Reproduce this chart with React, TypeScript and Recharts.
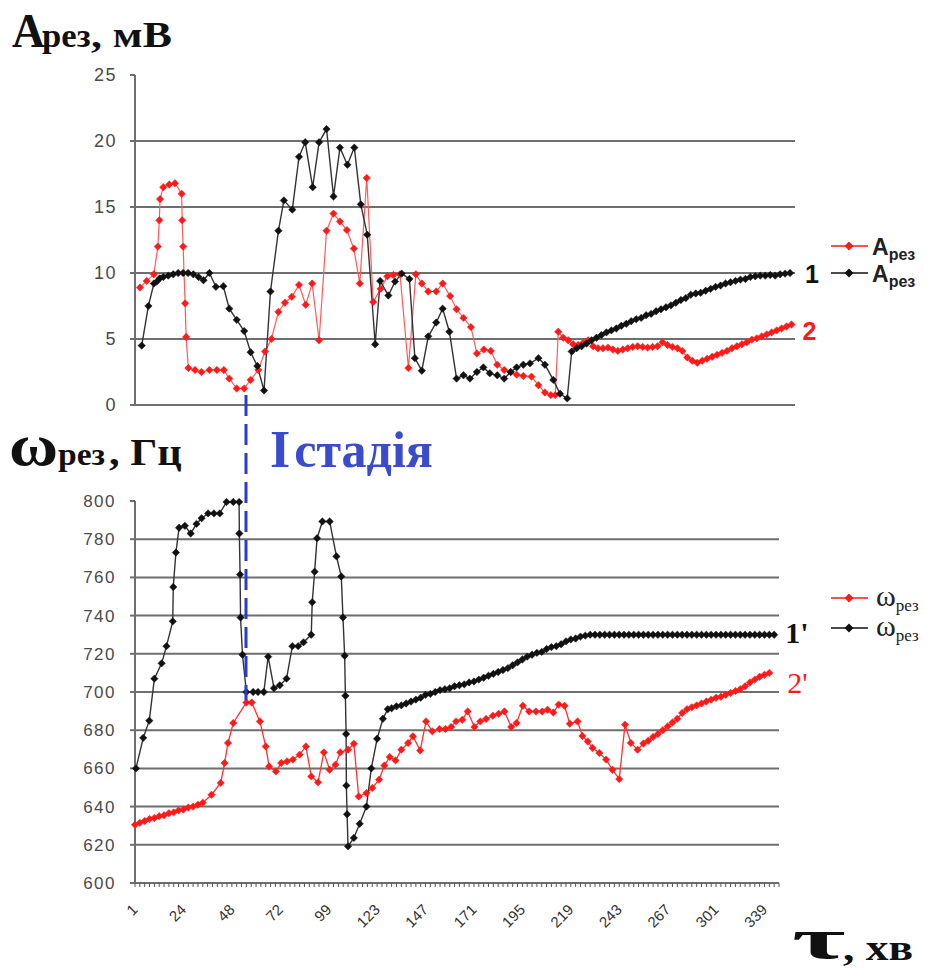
import React from 'react';
import { Line, LineChart, ReferenceLine, XAxis, YAxis } from 'recharts';

// τ, хв labels, one under every 10th sample
const tauLabels = ['1', '24', '48', '72', '99', '123', '147', '171', '195', '219', '243', '267', '301', '339'];
const SAMPLES = 133;

const ampTicks = [0, 5, 10, 15, 20, 25];
const ampGrid = [5, 10, 15, 20];
const freqTicks = [600, 620, 640, 660, 680, 700, 720, 740, 760, 780, 800];
const freqGrid = [620, 640, 660, 680, 700, 720, 740, 760, 780];

// [sample position, value]
// A_рез, curve 1 (black)
const ampCurve1: [number, number][] = [
  [1.35, 4.5], [2.7, 7.5], [3.8, 9.2], [4.4, 9.35], [5.0, 9.6], [5.7, 9.7], [6.7, 9.8], [7.7, 9.9], [8.7, 10.0], [9.7, 10.0],
  [10.7, 10.0], [11.75, 9.9], [12.8, 9.7], [13.8, 9.45], [15.0, 10.0], [16.3, 8.95], [17.8, 9.0], [19.0, 7.3], [20.5, 6.45], [22.0, 5.6],
  [23.3, 4.0], [24.65, 2.95], [26.0, 1.1], [27.3, 8.6], [28.9, 13.2], [30.0, 15.5], [31.7, 14.8], [33.05, 18.8], [34.3, 19.9], [35.8, 16.5],
  [37.1, 19.9], [38.6, 20.9], [40.0, 15.8], [41.3, 19.5], [42.8, 18.2], [44.2, 19.5], [45.5, 15.2], [46.8, 12.9], [48.4, 4.6], [49.4, 9.4],
  [51.05, 8.3], [52.4, 9.35], [53.75, 9.95], [55.3, 9.55], [56.4, 3.55], [57.8, 2.6], [59.1, 5.2], [60.7, 6.25], [62.0, 7.3], [63.35, 5.55],
  [64.8, 2.0], [66.2, 2.25], [67.5, 2.0], [68.9, 2.5], [70.2, 2.85], [71.5, 2.4], [73.0, 2.25], [74.4, 2.0], [75.7, 2.5], [76.9, 2.85],
  [78.25, 3.05], [79.6, 3.15], [81.3, 3.55], [82.6, 3.05], [84.3, 1.9], [85.65, 0.85], [87.1, 0.5],
  [88, 4.05], [89, 4.3], [90, 4.45], [91, 4.65], [92, 4.9], [93, 5.1], [94, 5.3], [95, 5.5], [96, 5.65], [97, 5.8],
  [98, 6.0], [99, 6.15], [100, 6.35], [101, 6.5], [102, 6.6], [103, 6.8], [104, 6.9], [105, 7.1], [106, 7.25], [107, 7.4],
  [108, 7.55], [109, 7.75], [110, 7.95], [111, 8.1], [112, 8.35], [113, 8.45], [114, 8.5], [115, 8.65], [116, 8.8], [117, 8.95],
  [118, 9.05], [119, 9.2], [120, 9.3], [121, 9.4], [122, 9.5], [123, 9.55], [124, 9.7], [125, 9.75], [126, 9.8], [127, 9.8],
  [128, 9.85], [129, 9.8], [130, 9.9], [131, 9.95], [132, 10.0],
];

// A_рез, curve 2 (red)
const ampCurve2: [number, number][] = [
  [1.0, 8.9], [2.35, 9.4], [3.8, 9.9], [4.6, 12.0], [4.9, 14.0], [5.05, 15.6], [5.7, 16.5], [6.9, 16.7], [8.05, 16.8], [9.4, 16.0],
  [9.5, 14.0], [9.7, 12.0], [10.1, 7.7], [10.3, 5.15], [10.75, 2.8], [12.1, 2.65], [13.4, 2.5], [15.0, 2.65], [16.5, 2.65], [17.9, 2.65],
  [19.0, 2.0], [20.5, 1.25], [22.0, 1.25], [23.3, 1.9], [24.85, 2.65], [26.2, 4.05], [27.5, 5.0], [28.9, 7.05], [30.2, 7.75], [31.6, 8.2],
  [33.05, 9.1], [34.4, 7.6], [35.7, 9.2], [37.1, 4.9], [38.6, 13.2], [40.0, 14.5], [41.3, 13.9], [42.7, 13.25], [44.1, 11.85], [45.3, 9.2],
  [46.7, 17.2], [48.0, 7.8], [49.5, 8.8], [50.85, 9.75], [52.05, 9.85], [53.4, 9.9], [55.1, 2.8], [56.6, 9.9], [57.8, 9.2], [59.1, 8.6],
  [60.7, 8.6], [62.0, 9.2], [63.5, 8.25], [64.8, 7.25], [66.2, 6.6], [67.7, 5.9], [68.9, 3.9], [70.3, 4.2], [71.7, 4.1], [73.0, 3.05],
  [74.4, 2.65], [75.7, 2.5], [76.9, 2.3], [78.25, 2.2], [79.9, 2.15], [81.3, 1.5], [82.6, 0.95], [83.8, 0.75], [84.7, 0.75], [85.3, 5.55],
  [86.3, 5.1], [87.3, 4.9], [88.3, 4.6], [89.3, 4.55], [90.3, 4.7], [91.3, 4.9], [92.3, 4.45], [93.3, 4.3], [94.3, 4.3], [95.3, 4.35],
  [96.3, 4.2], [97.3, 4.1], [98.3, 4.2], [99.3, 4.3], [100.3, 4.4], [101.3, 4.45], [102.3, 4.4], [103.3, 4.35], [104.3, 4.4], [105.3, 4.45],
  [106.3, 4.75], [107.3, 4.55], [108.3, 4.4], [109.3, 4.3], [110.3, 4.1], [111.3, 3.6], [112.3, 3.35], [113.3, 3.2], [114.3, 3.35], [115.3, 3.5],
  [116.3, 3.65], [117.3, 3.8], [118.3, 3.95], [119.3, 4.1], [120.3, 4.3], [121.3, 4.45], [122.3, 4.6], [123.3, 4.75], [124.3, 4.95], [125.3, 5.05],
  [126.3, 5.2], [127.3, 5.35], [128.3, 5.5], [129.3, 5.65], [130.3, 5.8], [131.3, 5.95], [132.3, 6.1],
];

// ω_рез, curve 1' (black)
const freqCurve1: [number, number][] = [
  [0.2, 660], [1.7, 676], [2.95, 685], [4.0, 707], [5.5, 715], [6.5, 724], [7.8, 737], [7.9, 755], [8.45, 773], [9.1, 786],
  [10.3, 787], [11.5, 783], [12.7, 788], [13.75, 791], [15.1, 793.5], [16.3, 793.5], [17.5, 793.5], [18.9, 799.5], [20.3, 799.5], [21.5, 799.5],
  [21.55, 783], [21.7, 761.5], [21.8, 739], [22.2, 719.5], [23.0, 700], [24.4, 700], [25.4, 700], [26.6, 700], [27.5, 718.5], [28.7, 702],
  [29.9, 703.5], [31.3, 707], [32.5, 724], [33.7, 724], [34.8, 726], [36.4, 730], [36.6, 747], [37.1, 763], [37.6, 780.5], [38.7, 789.3],
  [40.2, 789.3], [41.6, 771], [42.6, 760.5], [42.95, 739], [43.3, 719], [43.45, 698], [43.6, 678], [43.65, 651], [43.8, 636], [44.0, 619.2],
  [45.2, 623.6], [46.4, 631], [47.8, 640], [48.8, 660], [50.0, 675.5], [51.2, 686], [52.2, 691],
  [53, 691.5], [54, 692.5], [55, 693], [56, 694], [57, 695], [58, 696], [59, 697], [60, 698.5], [61, 699], [62, 700],
  [63, 701], [64, 701.5], [65, 702], [66, 703], [67, 703.5], [68, 704], [69, 705], [70, 705.5], [71, 706.5], [72, 707.5],
  [73, 708.5], [74, 709.5], [75, 710.5], [76, 711.5], [77, 712.5], [78, 714], [79, 715.5], [80, 717], [81, 718.5], [82, 719.5],
  [83, 720.5], [84, 721], [85, 722.5], [86, 723.5], [87, 724], [88, 725], [89, 726.5], [90, 727.5], [91, 728], [92, 729],
  [93, 729.5], [94, 730], [95, 730], [96, 730], [97, 730], [98, 730], [99, 730], [100, 730], [101, 730], [102, 730],
  [103, 730], [104, 730], [105, 730], [106, 730], [107, 730], [108, 730], [109, 730], [110, 730], [111, 730], [112, 730],
  [113, 730], [114, 730], [115, 730], [116, 730], [117, 730], [118, 730], [119, 730], [120, 730], [121, 730], [122, 730],
  [123, 730], [124, 730], [125, 730], [126, 730], [127, 730], [128, 730], [129, 730], [130, 730], [131, 730], [132, 730],
];

// ω_рез, curve 2' (red)
const freqCurve2: [number, number][] = [
  [0, 630.5], [1, 631.5], [2, 632.5], [3, 633.5], [4, 634], [5, 635], [6, 635.5], [7, 636.5], [8, 637], [9, 638],
  [10, 638.5], [11, 639.5], [12, 640], [13, 641], [14, 642], [15.8, 646.2], [17.7, 652.4], [18.5, 662.8], [19.2, 673.3], [20.3, 683.8],
  [23.0, 694.5], [24.1, 694.5], [25.8, 684.6], [27.0, 671.5], [27.7, 661], [29.1, 658.4], [30.2, 662.8], [31.4, 663.7], [32.6, 664.6], [34.0, 667.2],
  [35.3, 671.5], [36.4, 655.8], [37.8, 652.7], [39.0, 668.4], [40.2, 659.3], [41.4, 661.9], [42.4, 668.4], [44.0, 669.8], [45.2, 672.9], [46.2, 645.3],
  [47.8, 647.1], [49.0, 649.7], [50.4, 654.1], [51.5, 661.5], [52.6, 666], [53.8, 664.2], [55.0, 669.8], [56.4, 673.3], [57.4, 676.8], [58.9, 669.4],
  [60.1, 684.6], [61.4, 679.4], [62.9, 680.6], [64.1, 680.6], [65.3, 681.7], [66.3, 684.6], [67.6, 685.5], [68.7, 689.8], [70.1, 681.7], [71.3, 684.6],
  [72.5, 685.9], [73.9, 687.6], [75.1, 688.6], [76.3, 689.8], [77.7, 681.7], [78.8, 683.8], [80.1, 692.8], [81.4, 689.8], [82.8, 689.8], [84.1, 689.8],
  [85.2, 690.7], [86.4, 689.3], [87.5, 693.4], [88.7, 692.8], [89.8, 683.4], [91.4, 684.6], [92.4, 677], [93.5, 674.1], [94.5, 670.7], [95.9, 668.1],
  [97.3, 664.6], [98.6, 659.3], [100.0, 654.4], [101.2, 682.9], [102.4, 673.3], [103.8, 669.8], [105, 673], [106, 674.5], [107, 676.5], [108, 678],
  [109, 680], [110, 682], [111, 684], [112, 686], [113, 689], [114, 691], [115, 692], [116, 693], [117, 694], [118, 695],
  [119, 696], [120, 697], [121, 697.5], [122, 698.5], [123, 699.5], [124, 700.5], [125, 701.5], [126, 703], [127, 705], [128, 706.5],
  [129, 708], [130, 709], [131, 710],
];

const RED = '#ff1a1a';
const BLACK = '#111';
const GRID = '#6e6e6e';
const SANS = '"Liberation Sans", Arial, sans-serif';
const SERIF = '"Liberation Serif", "Times New Roman", serif';
const AXIS_FONT = { fontFamily: SANS, fill: '#4a4a4a', letterSpacing: 1.5 };

const toPoints = (pairs: [number, number][]) => pairs.map(([x, y]) => ({ x, y }));

const diamond = (color: string, r: number) => (p: any) => {
  const { cx, cy, index } = p;
  if (cx == null || cy == null) return <g key={`d${index}`} />;
  return (
    <path
      key={`d${index}`}
      d={`M${cx} ${cy - r}L${cx + r} ${cy}L${cx} ${cy + r}L${cx - r} ${cy}Z`}
      fill={color}
      stroke={color}
      strokeWidth={0.5}
    />
  );
};

const endLabel = (text: string, last: number, dx: number, dy: number, style: any) => (p: any) => {
  if (p.index !== last) return <g key={`l${p.index}`} />;
  return (
    <text key="end" x={p.x + dx} y={p.y + dy} {...style}>
      {text}
    </text>
  );
};

// one small tick per sample, a slanted τ label under every 10th
const sampleTicks = Array.from({ length: SAMPLES + 1 }, (_, i) => i);
const TauTick = (p: any) => {
  const { x, y, payload } = p;
  const i = payload.value as number;
  const label = i % 10 === 0 ? tauLabels[i / 10] : undefined;
  const lx = x;
  const ly = y + 24;
  return (
    <g>
      <line x1={x} y1={y} x2={x} y2={y + 4} stroke="#555" strokeWidth={1} />
      {label && (
        <text
          x={lx}
          y={ly}
          dy="0.35em"
          textAnchor="end"
          transform={`rotate(-45 ${lx} ${ly})`}
          fontFamily={SANS}
          fontSize={15}
          fill="#333"
        >
          {label}
        </text>
      )}
    </g>
  );
};

function AmplitudeChart() {
  return (
    <LineChart width={932} height={420} margin={{ top: 75, right: 137, bottom: 13, left: 0 }}>
      {ampGrid.map((v) => (
        <ReferenceLine key={v} y={v} stroke={GRID} strokeWidth={2} />
      ))}
      <XAxis type="number" dataKey="x" domain={[0, SAMPLES]} tick={false} tickLine={false} height={2} axisLine={{ stroke: GRID, strokeWidth: 2 }} />
      <YAxis
        type="number"
        domain={[0, 25]}
        ticks={ampTicks}
        width={135}
        tickSize={5}
        tickMargin={13}
        axisLine={{ stroke: GRID, strokeWidth: 2 }}
        tickLine={{ stroke: GRID, strokeWidth: 2 }}
        tick={{ ...AXIS_FONT, fontSize: 18 }}
      />
      <Line
        data={toPoints(ampCurve2)}
        dataKey="y"
        type="linear"
        stroke="#ff5a5a"
        strokeWidth={1.2}
        dot={diamond(RED, 3.7)}
        activeDot={false}
        isAnimationActive={false}
        label={endLabel('2', ampCurve2.length - 1, 11, 16, {
          fill: RED,
          fontSize: 25,
          fontWeight: 700,
          fontFamily: SANS,
        })}
      />
      <Line
        data={toPoints(ampCurve1)}
        dataKey="y"
        type="linear"
        stroke="#333"
        strokeWidth={1.4}
        dot={diamond(BLACK, 3.7)}
        activeDot={false}
        isAnimationActive={false}
        label={endLabel('1', ampCurve1.length - 1, 15, 10, {
          fill: '#111',
          fontSize: 25,
          fontWeight: 700,
          fontFamily: SANS,
        })}
      />
    </LineChart>
  );
}

function FrequencyChart() {
  return (
    <LineChart width={932} height={551} margin={{ top: 81, right: 153, bottom: 38, left: 0 }}>
      {freqGrid.map((v) => (
        <ReferenceLine key={v} y={v} stroke={GRID} strokeWidth={2} />
      ))}
      <XAxis
        type="number"
        dataKey="x"
        domain={[0, SAMPLES]}
        ticks={sampleTicks}
        interval={0}
        tick={<TauTick />}
        tickLine={false}
        tickSize={0}
        tickMargin={0}
        height={50}
        axisLine={{ stroke: GRID, strokeWidth: 2 }}
      />
      <YAxis
        type="number"
        domain={[600, 800]}
        ticks={freqTicks}
        width={135}
        tickSize={5}
        tickMargin={14}
        axisLine={{ stroke: GRID, strokeWidth: 2 }}
        tickLine={{ stroke: GRID, strokeWidth: 2 }}
        tick={{ ...AXIS_FONT, fontSize: 17 }}
      />
      <Line
        data={toPoints(freqCurve2)}
        dataKey="y"
        type="linear"
        stroke="#ff3030"
        strokeWidth={1.3}
        dot={diamond(RED, 3.7)}
        activeDot={false}
        isAnimationActive={false}
        label={endLabel("2'", freqCurve2.length - 1, 18, 20, {
          fill: RED,
          fontSize: 30,
          fontFamily: SERIF,
        })}
      />
      <Line
        data={toPoints(freqCurve1)}
        dataKey="y"
        type="linear"
        stroke="#333"
        strokeWidth={1.4}
        dot={diamond(BLACK, 3.7)}
        activeDot={false}
        isAnimationActive={false}
        label={endLabel("1'", freqCurve1.length - 1, 11, 8, {
          fill: '#111',
          fontSize: 30,
          fontWeight: 700,
          fontFamily: SERIF,
        })}
      />
    </LineChart>
  );
}

function LegendMark({ x, y, color }: { x: number; y: number; color: string }) {
  const r = 4.5;
  return (
    <g>
      <line x1={x} y1={y} x2={x + 37} y2={y} stroke={color} strokeWidth={1.5} />
      <path d={`M${x + 18} ${y - r}L${x + 18 + r} ${y}L${x + 18} ${y + r}L${x + 18 - r} ${y}Z`} fill={color} />
    </g>
  );
}

// text stretched horizontally like the scanned original
function Wide({ x, y, sx, children, ...rest }: any) {
  return (
    <text transform={`translate(${x} ${y}) scale(${sx} 1)`} x={0} y={0} {...rest}>
      {children}
    </text>
  );
}

export default function App() {
  return (
    <div style={{ position: 'absolute', left: 0, top: 0, width: 932, height: 971, background: '#fff', overflow: 'hidden' }}>
      <div style={{ position: 'absolute', left: 0, top: 0 }}>
        <AmplitudeChart />
      </div>
      <div style={{ position: 'absolute', left: 0, top: 420 }}>
        <FrequencyChart />
      </div>
      <svg width={932} height={971} style={{ position: 'absolute', left: 0, top: 0, pointerEvents: 'none' }}>
        {/* axis titles */}
        <Wide x={12} y={47} sx={0.95} fontFamily={SERIF} fontWeight={700} fill="#111" fontSize={48}>A</Wide>
        <Wide x={42} y={47} sx={1.05} fontFamily={SERIF} fontWeight={700} fill="#111" fontSize={33}>рез</Wide>
        <Wide x={91} y={47} sx={1.25} fontFamily={SERIF} fontWeight={700} fill="#111" fontSize={35}>, мВ</Wide>

        <Wide x={9} y={465} sx={1.12} fontFamily={SERIF} fontWeight={700} fill="#111" fontSize={60}>ω</Wide>
        <Wide x={58} y={465} sx={1.05} fontFamily={SERIF} fontWeight={700} fill="#111" fontSize={32}>рез</Wide>
        <Wide x={109} y={465} sx={1.12} fontFamily={SERIF} fontWeight={700} fill="#111" fontSize={38}>, Гц</Wide>

        <Wide x={792} y={958} sx={2.0} fontFamily={SERIF} fontWeight={700} fill="#111" fontSize={58}>τ</Wide>
        <Wide x={843} y={960} sx={1.3} fontFamily={SERIF} fontWeight={700} fill="#111" fontSize={35}>, хв</Wide>

        {/* stage boundary */}
        <line x1={246} y1={395} x2={246} y2={700} stroke="#2a3bd0" strokeWidth={3} strokeDasharray="21 8" />
        <text x={270} y={467} fontFamily={SERIF} fontWeight={700} fill="#3a4bcc">
          <tspan fontSize={52}>I</tspan>
          <tspan fontSize={50} dx={4}>стадія</tspan>
        </text>

        {/* legends */}
        <LegendMark x={831} y={246} color={RED} />
        <text x={872} y={255} fontFamily={SANS} fontWeight={700} fill="#222">
          <tspan fontSize={23}>A</tspan>
          <tspan fontSize={16} dy={5}>рез</tspan>
        </text>
        <LegendMark x={831} y={273} color={BLACK} />
        <text x={872} y={282} fontFamily={SANS} fontWeight={700} fill="#222">
          <tspan fontSize={23}>A</tspan>
          <tspan fontSize={16} dy={5}>рез</tspan>
        </text>

        <LegendMark x={831} y={598} color={RED} />
        <text x={876} y={606} fontFamily={SERIF} fill="#222">
          <tspan fontSize={30}>ω</tspan>
          <tspan fontSize={17} dy={5}>рез</tspan>
        </text>
        <LegendMark x={831} y={628} color={BLACK} />
        <text x={876} y={636} fontFamily={SERIF} fill="#222">
          <tspan fontSize={30}>ω</tspan>
          <tspan fontSize={17} dy={5}>рез</tspan>
        </text>
      </svg>
    </div>
  );
}
